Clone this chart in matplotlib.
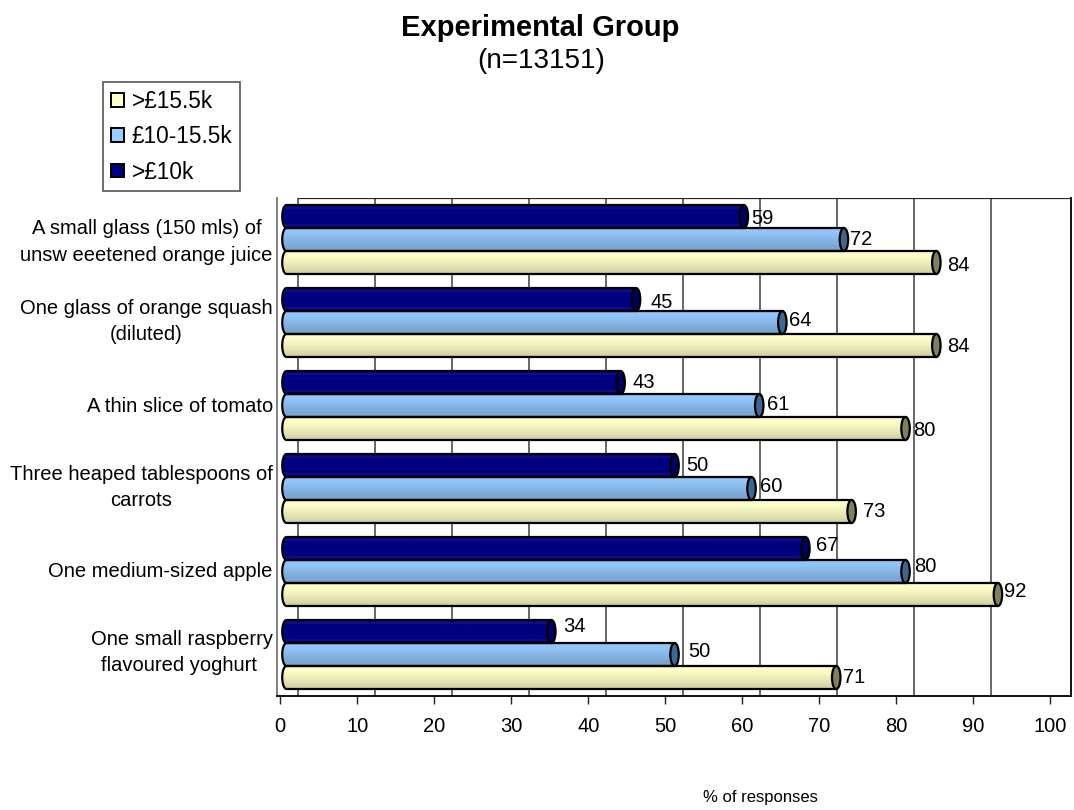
import numpy as np
import matplotlib
matplotlib.use("Agg")
import matplotlib.pyplot as plt
from matplotlib.patches import Ellipse, PathPatch, Patch
from matplotlib.path import Path
from matplotlib.colors import to_rgb
from matplotlib.transforms import ScaledTranslation

plt.rcParams['font.family'] = ['Liberation Sans', 'DejaVu Sans']

categories = ["A small glass (150 mls) of\nunsw eeetened orange juice",
              "One glass of orange squash\n(diluted)",
              "A thin slice of tomato",
              "Three heaped tablespoons of\ncarrots",
              "One medium-sized apple",
              "One small raspberry\nflavoured yoghurt "]
low = [59, 45, 43, 50, 67, 34]
mid = [72, 64, 61, 60, 80, 50]
high = [84, 84, 80, 73, 92, 71]
ticks = [0, 10, 20, 30, 40, 50, 60, 70, 80, 90, 100]

# (series values, legend label, gradient rows, cap colour, label dx px, label dy px)
styles = [
    (low, ">£10k", ['#000080', '#12128a', '#000080', '#000080', '#000080', '#000080', '#000080', '#000080',
                    '#000080', '#00007c', '#121285', '#000074'], '#000060',
     [3, 10, 8, 7, 6, 8], [2, 3, 0, 0, -3, -5]),
    (mid, "£10-15.5k", ['#8fc1f5', '#94c6fa', '#92c4f8', '#8fc0f3', '#8cbcee', '#89b8e9', '#86b4e4', '#83b0df',
                        '#80acda', '#7da8d6', '#7ba6d5', '#789fcc'], '#3f668f',
     [2, 2, 4, 4, 4, 9], [0, -2, -1, -2, -5, -3]),
    (high, ">£15.5k", ['#fbfbc8', '#ffffcc', '#fdfdca', '#f9f9c6', '#f5f5c2', '#f1f1bf', '#ecebba', '#e7e6b6',
                       '#e2e1b1', '#dcdbac', '#d6d5a8', '#d0cfa5'], '#80805f',
     [7, 7, 3, 7, 2, 3], [3, 1, 2, 0, -3, 0]),
]
legend_colors = {">£15.5k": '#FFFFCC', "£10-15.5k": '#99CCFF', ">£10k": '#000080'}
label_shift_px = [3, 6.5, 1.5, 7, 2, 7.5]

W, H = 1074, 810
fig = plt.figure(figsize=(W / 100, H / 100), dpi=100, facecolor='white')
ax = fig.add_axes([277 / W, 1 - 696 / H, 794 / W, 498 / H])
xlim = (-0.43, 102.69)
ylim = (5.5, -0.5)
bar_h = 0.277
a = 0.55          # semi-axis of the round ends, data units
start = 0.8       # centre of the left rounded end
depth = 1.2       # the 3D cap is drawn past the value
wall = 2.3        # back wall offset of the gridlines

ax.vlines([t + wall for t in ticks[:-1]], ylim[1], ylim[0], color='#4d4d4d', lw=1.2, zorder=1)
ax.hlines(ylim[1], ticks[0] + wall, xlim[1], color='#222222', lw=1.6, zorder=1)

theta = np.linspace(np.pi / 2, 3 * np.pi / 2, 30)
for k, (vals, label, rows, cap, dxs, dys) in enumerate(styles):
    img = np.array([[to_rgb(c)] for c in rows])
    for i, v in enumerate(vals):
        yc = i + (k - 1) * bar_h
        xr = v + depth
        y0, y1 = yc - bar_h / 2, yc + bar_h / 2
        xs = start + a * np.cos(theta)
        ys = yc - (bar_h / 2) * np.sin(theta)
        verts = np.column_stack([np.r_[xs, xr, xr, xs[0]], np.r_[ys, y1, y0, ys[0]]])
        path = Path(verts)
        im = ax.imshow(img, extent=(start - a, xr, y1, y0), aspect='auto',
                       interpolation='bilinear', zorder=2 + k * 0.01)
        outline = PathPatch(path, fc='none', ec='black', lw=1.6, zorder=2.5, joinstyle='round')
        ax.add_patch(outline)
        im.set_clip_path(outline)
        ax.add_patch(Ellipse((xr, yc), 2 * a, bar_h, fc=cap, ec='black', lw=1.6, zorder=2.6))
        ax.annotate(str(v), (xr + a, yc), xytext=(dxs[i] * 0.72, -dys[i] * 0.72),
                    textcoords='offset points', ha='left', va='center', fontsize=14.5, color='black', zorder=3)

ax.set_xlim(*xlim)
ax.set_ylim(*ylim)
ax.set_xticks(ticks)
ax.set_yticks(range(len(categories)))
ax.tick_params(axis='y', length=0, pad=3)
ax.tick_params(axis='x', length=6, width=1, pad=9, labelsize=14.5, color='#222222')
ax.set_yticklabels(categories, fontsize=14.5, multialignment='center', linespacing=1.49)
for lab, shift in zip(ax.get_yticklabels(), label_shift_px):
    lab.set_transform(lab.get_transform() + ScaledTranslation(0, shift / 100, fig.dpi_scale_trans))
ax.spines['top'].set_visible(False)
ax.spines['left'].set_color('#808080')
ax.spines['left'].set_linewidth(1.4)
for s in ('bottom', 'right'):
    ax.spines[s].set_linewidth(1.4)
    ax.spines[s].set_color('#111111')

ax.set_xlabel("% of responses", fontsize=12, labelpad=39, x=(760 - 277) / 794)

fig.text(540 / W, 1 - 28.5 / H, "Experimental Group", fontsize=21, fontweight='bold', ha='center', va='center')
fig.text(541 / W, 1 - 60.5 / H, "(n=13151)", fontsize=20, ha='center', va='center')

handles = [Patch(fc=legend_colors[s[1]], ec='black', lw=1.4, label=s[1]) for s in styles[::-1]]
leg = fig.legend(handles=handles, loc='upper left', bbox_to_anchor=(102.7 / W, 1 - 81.7 / H),
                 bbox_transform=fig.transFigure, fontsize=16.3, frameon=True, fancybox=False,
                 edgecolor='#555555', framealpha=1, borderaxespad=0, borderpad=0.35,
                 handlelength=0.57, handleheight=0.57, handletextpad=0.35, labelspacing=0.55)
leg.get_frame().set_linewidth(1.2)

fig.savefig("out.png", dpi=100)
